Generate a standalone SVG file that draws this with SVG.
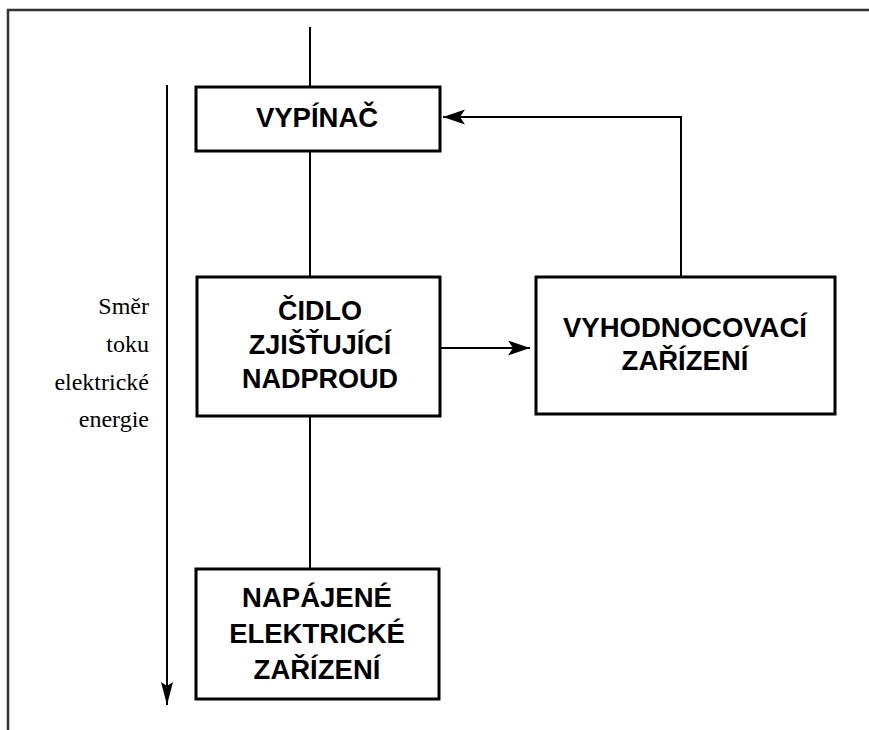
<svg xmlns="http://www.w3.org/2000/svg" width="869" height="730" viewBox="0 0 869 730">
<style>
.box{fill:#fff;stroke:#000;stroke-width:3}
.ln{fill:none;stroke:#000;stroke-width:2}
.bt{font-family:"Liberation Sans",Arial,sans-serif;font-weight:bold;font-size:27.5px;text-anchor:middle;fill:#000}
.st{font-family:"Liberation Serif","Times New Roman",serif;font-size:24px;text-anchor:end;fill:#000}
</style>
<defs>
<marker id="ah" markerWidth="24" markerHeight="16" refX="22" refY="7.5" orient="auto" markerUnits="userSpaceOnUse">
<path d="M0,0 L22,7.5 L0,15 L5,7.5 Z" fill="#000"/>
</marker>
<marker id="ahs" markerWidth="24" markerHeight="14" refX="23" refY="6" orient="auto" markerUnits="userSpaceOnUse">
<path d="M0,0 L23,6 L0,12 L4,6 Z" fill="#000"/>
</marker>
</defs>
<g id="frame">
<path d="M8,730 V10 H869" fill="none" stroke="#333" stroke-width="2.5"/>
</g>
<g id="connectors">
<line class="ln" x1="310" y1="27" x2="310" y2="87"/>
<line class="ln" x1="310" y1="151" x2="310" y2="277"/>
<line class="ln" x1="310" y1="416" x2="310" y2="569"/>
<line class="ln" x1="440" y1="348" x2="530" y2="348" marker-end="url(#ah)"/>
<polyline class="ln" points="681,277 681,117 443,117" marker-end="url(#ah)"/>
<line class="ln" x1="167" y1="85" x2="167" y2="705" marker-end="url(#ahs)"/>
</g>
<g id="label-smer">
<text class="st" x="149" y="314">Směr</text>
<text class="st" x="149" y="352">toku</text>
<text class="st" x="149" y="390">elektrické</text>
<text class="st" x="149" y="427">energie</text>
</g>
<g id="vypinac">
<rect class="box" x="196" y="87" width="244" height="64"/>
<text class="bt" x="317" y="127">VYPÍNAČ</text>
</g>
<g id="cidlo">
<rect class="box" x="197" y="277" width="243" height="139"/>
<text class="bt" x="320" y="320" style="font-size:27px">ČIDLO</text>
<text class="bt" x="320" y="354" style="font-size:27px">ZJIŠŤUJÍCÍ</text>
<text class="bt" x="320" y="388" style="font-size:27px">NADPROUD</text>
</g>
<g id="vyhodnocovaci">
<rect class="box" x="536" y="277" width="299" height="137"/>
<text class="bt" x="685" y="337">VYHODNOCOVACÍ</text>
<text class="bt" x="685" y="370">ZAŘÍZENÍ</text>
</g>
<g id="napajene">
<rect class="box" x="196" y="569" width="243" height="130"/>
<text class="bt" x="317" y="607">NAPÁJENÉ</text>
<text class="bt" x="317" y="643">ELEKTRICKÉ</text>
<text class="bt" x="317" y="679">ZAŘÍZENÍ</text>
</g>
</svg>
